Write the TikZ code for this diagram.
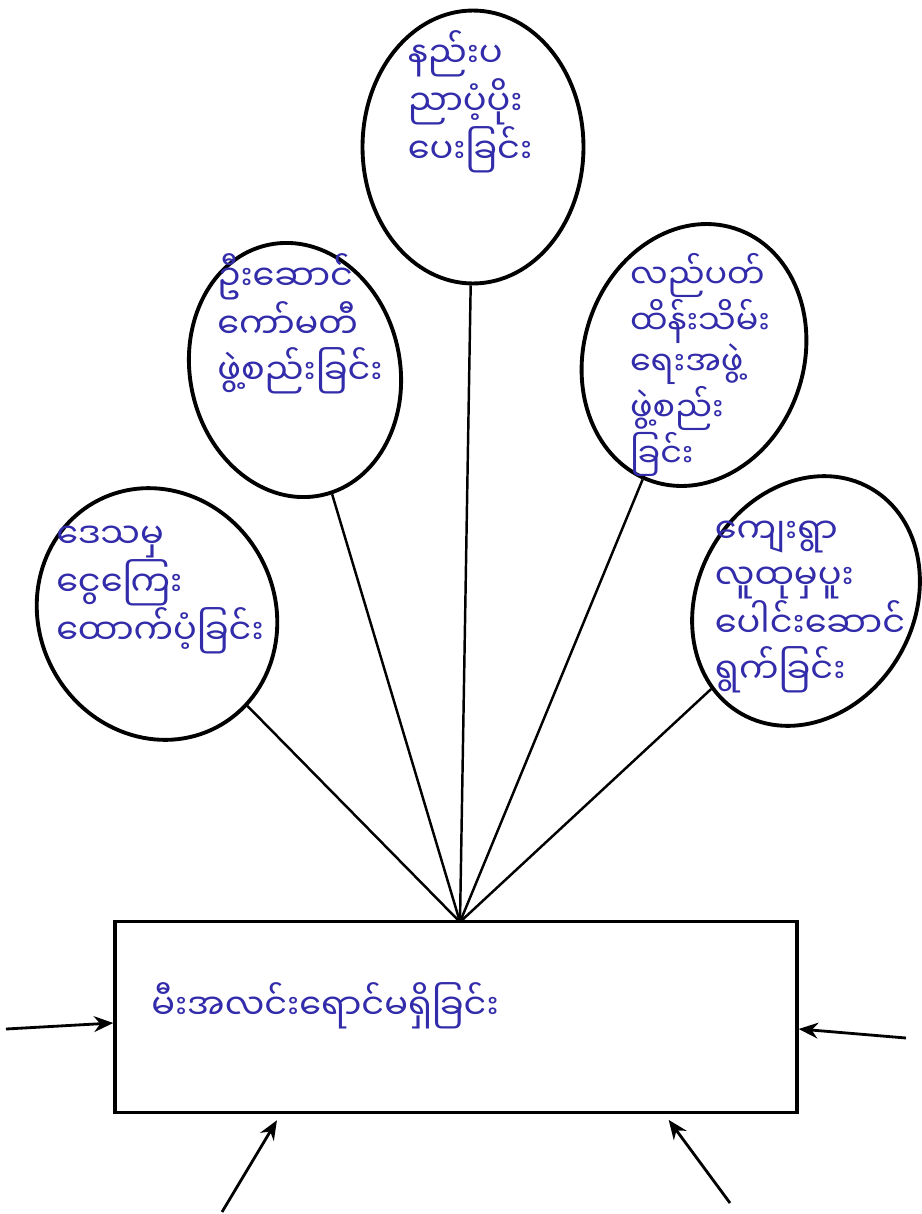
\documentclass[tikz,border=0pt]{standalone}
\usepackage{fontspec}
\usepackage{tikz}
\usetikzlibrary{shapes.geometric,arrows.meta}
\newfontfamily\mmfont[Script=Myanmar]{Noto Sans Myanmar UI}
\definecolor{ink}{RGB}{50,44,170}

\begin{document}
\begin{tikzpicture}[x=0.02cm,y=-0.02cm,
  bubble/.style={draw,ellipse,line width=2.2pt,inner sep=0pt},
  hand/.style={ink,font=\mmfont\fontsize{20}{26}\selectfont,align=left,inner sep=0pt},
  spoke/.style={line width=1.4pt},
  push/.style={line width=1.6pt,-{Stealth[length=11pt,width=9pt]}}]
  \useasboundingbox (0,0) rectangle (922,1214);
  \node[bubble,minimum width=4.42cm,minimum height=5.46cm] (tech) at (473,147) {};
  \node[bubble,minimum width=4.2cm,minimum height=5.12cm,rotate=12] (lead) at (295,370) {};
  \node[bubble,minimum width=4.4cm,minimum height=5.32cm,rotate=-18] (care) at (694,355) {};
  \node[bubble,minimum width=4.72cm,minimum height=5.12cm,rotate=28] (fund) at (157,614) {};
  \node[bubble,minimum width=4.32cm,minimum height=5.2cm,rotate=-30] (join) at (806,601) {};
  \node[hand] (techtext) at (470,102) {နည်းပ\\ညာပံ့ပိုး\\ပေးခြင်း};
  \node[hand] (leadtext) at (300,324) {ဦးဆောင်\\ကော်မတီ\\ဖွဲ့စည်းခြင်း};
  \node[hand,font=\mmfont\fontsize{19}{23}\selectfont] (caretext) at (700,365) {လည်ပတ်\\ထိန်းသိမ်း\\ရေးအဖွဲ့\\ဖွဲ့စည်း\\ခြင်း};
  \node[hand] (fundtext) at (160,590) {ဒေသမှ\\ငွေကြေး\\ထောက်ပံ့ခြင်း};
  \node[hand] (jointext) at (810,607) {ကျေးရွာ\\လူထုမှပူး\\ပေါင်းဆောင်\\ရွက်ခြင်း};
  \node[draw,line width=2pt,minimum width=13.64cm,minimum height=3.82cm] (box) at (456,1017) {};
  \node[hand] (fault) at (325,1006) {မီးအလင်းရောင်မရှိခြင်း};
  \coordinate (hub) at (460,922);
  \draw[spoke] (tech) -- (hub);
  \draw[spoke] (lead) -- (hub);
  \draw[spoke] (care) -- (hub);
  \draw[spoke] (fund) -- (hub);
  \draw[spoke] (join) -- (hub);
  \coordinate (inW) at (6,1029);
  \coordinate (inE) at (906,1038);
  \coordinate (inSW) at (222,1212);
  \coordinate (inSE) at (730,1203);
  \draw[push] (inW) -- (box.181);
  \draw[push] (inE) -- (box.-2);
  \draw[push,shorten >=4pt] (inSW) -- (box.209);
  \draw[push,shorten >=4pt] (inSE) -- (box.-25);
\end{tikzpicture}
\end{document}
